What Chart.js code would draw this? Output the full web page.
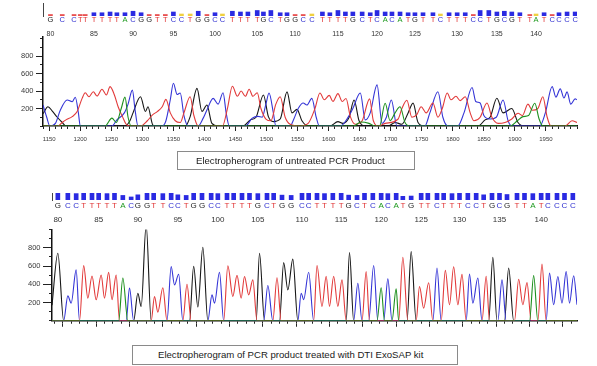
<!DOCTYPE html>
<html>
<head>
<meta charset="utf-8">
<script src="https://cdn.jsdelivr.net/npm/chart.js@4.4.1/dist/chart.umd.min.js"></script>
<style>
  body { margin: 0; background: #fff; }
  #page { position: relative; width: 597px; height: 366px; overflow: hidden; background: #fff; }
  canvas { position: absolute; left: 0; }
  .caption {
    position: absolute; box-sizing: border-box; border: 1px solid #8a8a8a;
    font-family: 'Liberation Sans', Arial, sans-serif; font-size: 9.6px; color: #1a1a1a; white-space: nowrap;
  }
</style>
</head>
<body>
<div id="page">
  <canvas id="topHead" width="597" height="45" style="top:0px"></canvas>
  <canvas id="topTrace" width="597" height="117" style="top:30px"></canvas>
  <div class="caption" style="left:177px; top:151px; width:238px; height:19px; line-height:17px; padding-left:18px;">Electropherogram of untreated PCR Product</div>
  <canvas id="botHead" width="597" height="42" style="top:186px"></canvas>
  <canvas id="botTrace" width="597" height="105" style="top:222px"></canvas>
  <div class="caption" style="left:132px; top:345px; width:326px; height:20px; line-height:18px; padding-left:25px;">Electropherogram of PCR product treated with DTI ExoSAP kit</div>
</div>
<script>
// base calls, base positions (scan units) and quality per base
const topBases = 'GCCTTTTTTACGGTTCCTGGCCTTTTGCTGGCCTTTTGCTCACATGTTCTTTCCTGCGTTATCCCC'.split('');
const topBasePos = [1152, 1171, 1190, 1200, 1208, 1222, 1235, 1248, 1259, 1272, 1285, 1298, 1311, 1324, 1337, 1350,
  1363, 1377, 1390, 1404, 1417, 1429, 1445, 1458, 1470, 1485, 1495, 1507, 1522, 1533, 1546, 1559, 1573, 1590, 1602,
  1615, 1627, 1639, 1654, 1667, 1678, 1691, 1702, 1715, 1728, 1739, 1752, 1768, 1780, 1794, 1807, 1820, 1833, 1844,
  1858, 1871, 1883, 1895, 1908, 1924, 1934, 1947, 1960, 1971, 1984, 1997];
const topQuality = [12, 12, 12, 12, 12, 26, 26, 32, 26, 26, 38, 26, 12, 12, 12, 32, 16, 16, 38, 12, 26, 16, 38, 32, 32,
  44, 32, 44, 26, 26, 12, 12, 16, 32, 26, 44, 32, 32, 32, 26, 44, 32, 32, 32, 26, 26, 26, 26, 16, 26, 26, 26, 12, 44,
  44, 32, 38, 32, 26, 12, 16, 26, 12, 26, 32, 32];

const bottomBases = 'GCCTTTTTACGGTTCCTGGCCTTTTGCTGGCCTTTTGCTCACATGTTCTTTCCTGCGTTATCCCC'.split('');
const bottomBasePos = [1194, 1206, 1216, 1225, 1235, 1243, 1253, 1262, 1272, 1282, 1290, 1301, 1309, 1320, 1330, 1338,
  1348, 1357, 1367, 1378, 1386, 1397, 1405, 1415, 1424, 1434, 1445, 1453, 1463, 1474, 1487, 1495, 1505, 1514, 1524,
  1534, 1543, 1553, 1562, 1572, 1582, 1590, 1600, 1608, 1618, 1630, 1638, 1649, 1657, 1667, 1676, 1686, 1696, 1705,
  1715, 1724, 1733, 1745, 1754, 1764, 1774, 1782, 1793, 1802, 1812];
const bottomQuality = [44, 44, 42, 44, 44, 44, 42, 44, 30, 20, 34, 44, 44, 42, 44, 34, 30, 44, 44, 44, 42, 44, 44, 44,
  44, 42, 44, 44, 32, 30, 44, 44, 44, 42, 44, 44, 32, 30, 44, 44, 44, 42, 44, 24, 26, 44, 44, 44, 44, 42, 44, 44, 44,
  34, 44, 44, 36, 44, 44, 42, 44, 44, 44, 44, 44];

const baseNumbers = [80, 85, 90, 95, 100, 105, 110, 115, 120, 125, 130, 135, 140];
const topScanLabels = [1150, 1200, 1250, 1300, 1350, 1400, 1450, 1500, 1550, 1600, 1650, 1700, 1750, 1800, 1850, 1900, 1950];
const signalLabels = [200, 400, 600, 800];

// untreated product traces [scan, signal]
const topBlack = [[1140, 140], [1148, 220], [1155, 170], [1163, 100], [1171, 40], [1177, 0],
  [1272, 0], [1280, 60], [1285, 150], [1297, 335], [1305, 165], [1309, 220], [1317, 10], [1325, 0],
  [1369, 0], [1377, 107], [1388, 430], [1396, 165], [1404, 240], [1412, 30], [1422, 0],
  [1462, 0], [1474, 70], [1483, 100], [1495, 355], [1503, 107], [1511, 50], [1522, 80], [1533, 390], [1541, 150],
  [1549, 190], [1557, 60], [1567, 0],
  [1602, 0], [1615, 50], [1623, 30], [1633, 100], [1641, 297], [1649, 60], [1659, 0],
  [1696, 0], [1707, 40], [1718, 20], [1728, 150], [1736, 262], [1744, 40], [1754, 0],
  [1841, 0], [1852, 70], [1860, 100], [1871, 318], [1881, 150], [1895, 200], [1905, 40], [1915, 0], [2000, 0]];
const topBlue = [[1140, 240], [1146, 100], [1151, 0], [1160, 30], [1168, 183], [1179, 297], [1187, 278], [1192, 328],
  [1197, 150], [1200, 0],
  [1251, 0], [1259, 70], [1271, 150], [1277, 250], [1284, 410], [1288, 200], [1293, 0],
  [1332, 0], [1338, 60], [1345, 300], [1350, 488], [1356, 360], [1361, 377], [1367, 120], [1374, 0],
  [1390, 0], [1398, 90], [1404, 183], [1414, 316], [1422, 250], [1430, 380], [1435, 150], [1440, 0],
  [1466, 0], [1477, 90], [1486, 110], [1493, 100], [1499, 250], [1504, 377], [1511, 150], [1515, 0],
  [1538, 0], [1544, 80], [1551, 200], [1559, 263], [1565, 240], [1573, 316], [1580, 100], [1585, 0],
  [1619, 0], [1632, 107], [1639, 200], [1651, 377], [1659, 70], [1667, 150], [1678, 470], [1686, 30], [1693, 100],
  [1701, 297], [1710, 0],
  [1755, 0], [1763, 150], [1776, 392], [1784, 100], [1792, 0],
  [1808, 0], [1818, 150], [1831, 440], [1837, 280], [1844, 263], [1850, 120], [1860, 80], [1870, 100], [1881, 297],
  [1889, 60], [1895, 0],
  [1940, 0], [1949, 150], [1960, 450], [1966, 330], [1973, 425], [1979, 320], [1984, 390], [1990, 250], [1997, 310],
  [2000, 300]];
const topRed = [[1140, 0], [1164, 0], [1171, 40], [1177, 70], [1187, 107], [1195, 165], [1203, 316], [1208, 380],
  [1214, 335], [1221, 392], [1227, 343], [1235, 420], [1242, 355], [1248, 450], [1255, 355], [1261, 220], [1268, 107],
  [1274, 20], [1280, 0],
  [1297, 0], [1308, 60], [1316, 125], [1324, 165], [1332, 220], [1338, 305], [1345, 150], [1353, 60], [1361, 40],
  [1367, 150], [1377, 335], [1383, 120], [1390, 0],
  [1429, 0], [1437, 200], [1445, 455], [1453, 340], [1459, 400], [1466, 340], [1472, 420], [1478, 340], [1485, 380],
  [1491, 200], [1499, 80], [1507, 60], [1515, 250], [1522, 335], [1530, 100], [1538, 20], [1554, 0],
  [1567, 30], [1578, 200], [1586, 378], [1593, 300], [1601, 350], [1607, 280], [1615, 370], [1622, 280], [1628, 315],
  [1635, 107], [1643, 20], [1654, 60], [1666, 310], [1672, 60], [1680, 0],
  [1691, 30], [1712, 80], [1718, 200], [1726, 295], [1734, 100], [1742, 130], [1749, 220], [1757, 150], [1768, 263],
  [1776, 100], [1783, 200], [1791, 377], [1797, 300], [1805, 340], [1812, 290], [1820, 335], [1828, 150], [1834, 60],
  [1844, 100], [1855, 263], [1863, 100], [1873, 30], [1884, 40], [1895, 80], [1905, 145], [1912, 120], [1921, 250],
  [1928, 180], [1937, 200], [1945, 335], [1952, 100], [1958, 0],
  [1981, 0], [1992, 60], [2000, 40]];
const topGreen = [[1140, 0], [1240, 0], [1251, 90], [1258, 40], [1266, 200], [1272, 330], [1277, 100], [1282, 0],
  [1640, 0], [1652, 45], [1665, 30], [1675, 0],
  [1682, 0], [1691, 260], [1699, 60], [1707, 150], [1715, 220], [1723, 40], [1731, 0],
  [1892, 0], [1904, 60], [1913, 107], [1922, 120], [1932, 260], [1939, 80], [1945, 0], [2000, 0]];

// ExoSAP treated product traces [scan, signal]
const bottomBlack = [[1187, 170], [1194, 740], [1201, 0],
  [1285, 0], [1290, 302], [1294, 157], [1300, 1050], [1306, 0],
  [1352, 0], [1357, 597], [1362, 150], [1368, 805], [1374, 0],
  [1432, 0], [1436, 740], [1442, 0],
  [1460, 0], [1465, 637], [1470, 338], [1476, 675], [1482, 0],
  [1540, 0], [1544, 748], [1549, 0],
  [1613, 0], [1618, 758], [1624, 0],
  [1711, 0], [1716, 696], [1721, 0],
  [1730, 0], [1735, 578], [1741, 0], [1817, 0]];
const bottomBlue = [[1187, 0], [1201, 0], [1206, 273], [1210, 193], [1216, 557], [1220, 0],
  [1276, 0], [1280, 357], [1285, 0],
  [1325, 0], [1330, 593], [1334, 393], [1339, 510], [1344, 0],
  [1374, 0], [1379, 284], [1382, 193], [1388, 531], [1393, 0],
  [1441, 0], [1446, 386], [1452, 0],
  [1482, 0], [1486, 302], [1489, 230], [1495, 531], [1501, 0],
  [1549, 0], [1554, 411], [1559, 0],
  [1567, 0], [1573, 605], [1578, 0],
  [1585, 0], [1590, 459], [1595, 0],
  [1644, 0], [1649, 578], [1654, 0],
  [1684, 0], [1688, 512], [1692, 193], [1698, 468], [1703, 0],
  [1722, 0], [1727, 448], [1732, 0],
  [1780, 0], [1784, 522], [1789, 175], [1794, 485], [1799, 193], [1804, 540], [1808, 193], [1813, 493], [1817, 175]];
const bottomRed = [[1187, 0], [1220, 0], [1225, 604], [1230, 248], [1235, 491], [1240, 230], [1246, 502], [1250, 248],
  [1255, 530], [1259, 230], [1264, 502], [1268, 0],
  [1306, 0], [1310, 264], [1314, 95], [1320, 362], [1325, 0],
  [1344, 0], [1349, 400], [1354, 0],
  [1393, 0], [1398, 602], [1404, 266], [1409, 497], [1414, 248], [1418, 485], [1423, 284], [1428, 448], [1433, 0],
  [1452, 0], [1457, 472], [1462, 0],
  [1501, 0], [1505, 606], [1511, 157], [1516, 488], [1520, 157], [1525, 488], [1530, 157], [1535, 448], [1540, 0],
  [1559, 0], [1564, 540], [1568, 0],
  [1603, 0], [1608, 696], [1614, 0],
  [1624, 0], [1628, 375], [1633, 138], [1639, 416], [1644, 0],
  [1654, 0], [1659, 552], [1664, 175], [1669, 592], [1674, 175], [1679, 508], [1684, 0],
  [1703, 0], [1708, 488], [1712, 0],
  [1742, 0], [1747, 454], [1752, 175], [1757, 418], [1762, 0],
  [1770, 0], [1775, 621], [1780, 0], [1817, 0]];
const bottomGreen = [[1187, 0], [1267, 0], [1272, 468], [1278, 0],
  [1577, 0], [1582, 362], [1586, 0],
  [1595, 0], [1600, 350], [1603, 0],
  [1760, 0], [1765, 494], [1770, 0], [1817, 0]];

const baseColour = { G: '#1c1c1c', C: '#2f2fd0', T: '#e03434', A: '#1f9a1f' };
const traceColour = { G: '#161616', C: '#3434d6', T: '#e23a3a', A: '#1d8f1d' };
const labelFont = size => ({ family: "'Liberation Sans', Arial, sans-serif", size: size, lineHeight: 1 });

function qualityColour(q) {
  if (q < 14) return '#e85050';
  if (q < 20) return '#f0d040';
  return '#2a2ae2';
}

function steps(from, to, by) {
  const out = [];
  for (let v = from; v <= to + 0.001; v += by) out.push(v);
  return out;
}

function fixedTicks(values) {
  return scale => { scale.ticks = values.map(v => ({ value: v })); };
}

function headerChart(id, bases, pos, quality, o) {
  const numberPos = baseNumbers.map(n => pos[n - baseNumbers[0]]);
  return new Chart(document.getElementById(id), {
    type: 'bar',
    data: {
      datasets: [{
        data: pos.map((p, i) => ({ x: p, y: quality[i] })),
        backgroundColor: c => qualityColour(c.raw ? c.raw.y : 30),
        barThickness: 4,
        borderWidth: 0
      }]
    },
    options: {
      responsive: false, animation: false, devicePixelRatio: 1,
      layout: { padding: o.padding },
      plugins: { legend: { display: false }, tooltip: { enabled: false } },
      scales: {
        x: {
          type: 'linear', min: o.min, max: o.max, weight: 0, offset: false,
          grid: { display: false, drawTicks: false, offset: false }, border: { display: false },
          afterBuildTicks: fixedTicks(pos),
          ticks: {
            autoSkip: false, maxRotation: 0, minRotation: 0, padding: o.letterPad,
            font: labelFont(o.letterSize),
            color: c => baseColour[bases[c.index]],
            callback: (v, i) => bases[i]
          }
        },
        x2: {
          type: 'linear', axis: 'x', position: 'bottom', min: o.min, max: o.max, weight: 1, offset: false,
          grid: { display: false, drawTicks: false, offset: false }, border: { display: false },
          afterBuildTicks: fixedTicks(numberPos),
          ticks: {
            autoSkip: false, maxRotation: 0, minRotation: 0, padding: o.numberPad,
            font: labelFont(o.numberSize), color: '#333',
            callback: (v, i) => String(baseNumbers[i])
          }
        },
        y: {
          min: 0, max: o.qMax,
          grid: { display: false, drawTicks: false },
          border: { display: true, color: '#444', width: 1 },
          ticks: { display: false }
        }
      }
    }
  });
}

function traceChart(id, series, o) {
  return new Chart(document.getElementById(id), {
    type: 'line',
    data: {
      datasets: series.map(s => ({
        data: s.data, borderColor: s.colour, borderWidth: 1.1, pointRadius: 0,
        cubicInterpolationMode: 'monotone', fill: false
      }))
    },
    options: {
      responsive: false, animation: false, devicePixelRatio: 1,
      layout: { padding: { left: 0, right: 20, top: o.top, bottom: 0 } },
      plugins: { legend: { display: false }, tooltip: { enabled: false } },
      scales: {
        x: {
          type: 'linear', min: o.min, max: o.max, weight: 0,
          border: { color: '#111', width: 1.5 },
          grid: { drawOnChartArea: false, tickLength: 3, color: '#222' },
          afterBuildTicks: fixedTicks(o.minorX),
          ticks: { display: false }
        },
        xMajor: {
          type: 'linear', axis: 'x', position: 'bottom', min: o.min, max: o.max, weight: 1,
          border: { display: false },
          grid: { drawOnChartArea: false, tickLength: o.xMajorLen, color: '#222' },
          afterBuildTicks: fixedTicks(o.majorX),
          ticks: {
            display: !!o.xLabels, autoSkip: false, maxRotation: 0, minRotation: 0, padding: 5,
            font: labelFont(6), color: '#3a3a3a',
            callback: (v, i) => o.xLabels ? String(o.xLabels[i]) : ''
          }
        },
        y: {
          type: 'linear', min: 0, max: o.yMax, weight: 0,
          border: { color: '#111', width: 1.5 },
          grid: { drawOnChartArea: false, tickLength: 3, color: '#222' },
          afterBuildTicks: fixedTicks(steps(0, 1000, 100)),
          ticks: { display: false }
        },
        yMajor: {
          type: 'linear', axis: 'y', position: 'left', min: 0, max: o.yMax, weight: 1,
          border: { display: false },
          grid: { drawOnChartArea: false, tickLength: o.yMajorLen, color: '#222' },
          afterBuildTicks: fixedTicks(signalLabels),
          afterFit: s => { s.width = o.yAxisWidth; },
          ticks: { padding: 2.5, font: labelFont(7.5), color: '#3a3a3a', callback: v => String(v) }
        }
      }
    }
  });
}

headerChart('topHead', topBases, topBasePos, topQuality, {
  min: 1140, max: 2000, qMax: 104,
  padding: { left: 43, right: 20, top: 3, bottom: 0.5 },
  letterSize: 7.5, letterPad: 0.5, numberSize: 7, numberPad: 6.5
});

traceChart('topTrace', [
  { data: topGreen, colour: traceColour.A },
  { data: topRed, colour: traceColour.T },
  { data: topBlue, colour: traceColour.C },
  { data: topBlack, colour: traceColour.G }
], {
  min: 1140, max: 2000, yMax: 1020, top: 6.8,
  minorX: steps(1140, 2000, 10), majorX: topScanLabels, xLabels: topScanLabels, xMajorLen: 2,
  yMajorLen: 4, yAxisWidth: 40
});

headerChart('botHead', bottomBases, bottomBasePos, bottomQuality, {
  min: 1187, max: 1817, qMax: 46,
  padding: { left: 52, right: 20, top: 7, bottom: 0 },
  letterSize: 8, letterPad: 2, numberSize: 8, numberPad: 4
});

traceChart('botTrace', [
  { data: bottomGreen, colour: traceColour.A },
  { data: bottomRed, colour: traceColour.T },
  { data: bottomBlue, colour: traceColour.C },
  { data: bottomBlack, colour: traceColour.G }
], {
  min: 1187, max: 1817, yMax: 1000, top: 7.5,
  minorX: steps(1190, 1810, 10), majorX: steps(1200, 1800, 40), xLabels: null, xMajorLen: 3,
  yMajorLen: 6, yAxisWidth: 49
});
</script>
</body>
</html>
